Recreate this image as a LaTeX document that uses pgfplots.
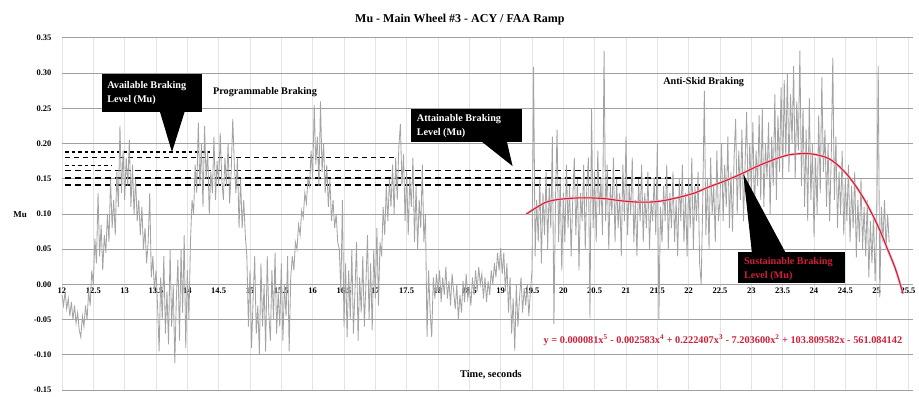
\documentclass[border=0pt]{standalone}
\usepackage{fontspec}
\setmainfont{Liberation Serif}
\usepackage{pgfplots}
\pgfplotsset{compat=1.18}
\definecolor{gridh}{HTML}{A0A0A0}
\definecolor{gridv}{HTML}{E4E4E4}
\definecolor{dataline}{HTML}{A4A4A4}
\definecolor{fitred}{HTML}{D01E38}
\begin{document}
\begin{tikzpicture}
\begin{axis}[
  scale only axis, width=851pt, height=352pt,
  xmin=12, xmax=25.58, ymin=-0.15, ymax=0.35,
  axis line style={draw=none},
  major tick length=0pt, tick style={draw=none},
  xtick={12,12.5,13,13.5,14,14.5,15,15.5,16,16.5,17,17.5,18,18.5,19,19.5,20,20.5,21,21.5,22,22.5,23,23.5,24,24.5,25,25.5},
  ytick={-0.15,-0.1,-0.05,0,0.05,0.1,0.15,0.2,0.25,0.3,0.35},
  xmajorgrids, ymajorgrids,
  x grid style={gridv, line width=0.6pt},
  y grid style={gridh, line width=1pt},
  /pgf/number format/assume math mode=true,
  xticklabel style={font=\bfseries\fontsize{8.5}{9}\selectfont, yshift=105.6pt},
  yticklabel style={font=\bfseries\fontsize{8.5}{9}\selectfont, xshift=-7pt,
    /pgf/number format/.cd, fixed, fixed zerofill, precision=2},
  clip=false,
]
% dashed braking level lines
\addplot[black, line width=1.3pt, dash pattern=on 3.5pt off 3pt] coordinates {(12.05,0.188) (14.36,0.188)};
\addplot[black, line width=1.3pt, dash pattern=on 5pt off 4pt] coordinates {(12.05,0.180) (17.35,0.180)};
\addplot[black, line width=1.3pt, dash pattern=on 3.5pt off 3pt] coordinates {(12.05,0.169) (12.8,0.169)};
\addplot[black, line width=1.3pt, dash pattern=on 6pt off 4pt] coordinates {(12.05,0.162) (20.9,0.162)};
\addplot[black, line width=1.3pt, dash pattern=on 6pt off 4pt] coordinates {(12.05,0.151) (21.75,0.151)};
\addplot[black, line width=1.3pt, dash pattern=on 6pt off 4pt] coordinates {(12.05,0.141) (22.18,0.141)};
% measured Mu
\addplot[dataline, line width=0.85pt] coordinates {
(12.000,-0.015) (12.025,-0.030) (12.050,-0.010) (12.075,-0.035)
(12.100,-0.020) (12.125,-0.045) (12.150,-0.025) (12.175,-0.050)
(12.200,-0.030) (12.225,-0.055) (12.250,-0.040) (12.275,-0.065)
(12.300,-0.075) (12.325,-0.045) (12.350,-0.060) (12.375,-0.030)
(12.400,-0.050) (12.425,-0.010) (12.450,-0.030) (12.475,0.020)
(12.500,0.000) (12.525,0.065) (12.550,0.030) (12.575,0.130)
(12.600,0.040) (12.625,0.085) (12.650,0.020) (12.675,0.070)
(12.700,0.045) (12.725,0.100) (12.750,0.060) (12.775,0.150)
(12.800,0.080) (12.825,0.120) (12.850,0.070) (12.875,0.160)
(12.900,0.110) (12.925,0.225) (12.950,0.130) (12.975,0.190)
(13.000,0.120) (13.025,0.180) (13.050,0.140) (13.075,0.205)
(13.100,0.110) (13.125,0.170) (13.150,0.100) (13.175,0.150)
(13.200,0.090) (13.225,0.120) (13.250,0.070) (13.275,0.110)
(13.300,0.050) (13.325,0.080) (13.350,0.030) (13.375,0.060)
(13.400,0.130) (13.425,0.010) (13.450,0.040) (13.475,-0.010)
(13.500,0.020) (13.525,-0.030) (13.550,-0.095) (13.575,0.010)
(13.600,-0.050) (13.625,0.040) (13.650,-0.070) (13.675,-0.010)
(13.700,-0.085) (13.725,0.050) (13.750,-0.060) (13.775,0.000)
(13.800,-0.112) (13.825,-0.020) (13.850,0.035) (13.875,-0.080)
(13.900,0.050) (13.925,-0.040) (13.950,0.070) (13.975,-0.090)
(14.000,0.020) (14.025,-0.050) (14.050,0.060) (14.075,0.120)
(14.100,0.100) (14.125,0.170) (14.150,0.130) (14.175,0.230)
(14.200,0.140) (14.225,0.200) (14.250,0.110) (14.275,0.225)
(14.300,0.150) (14.325,0.190) (14.350,0.100) (14.375,0.160)
(14.400,0.130) (14.425,0.210) (14.450,0.120) (14.475,0.175)
(14.500,0.140) (14.525,0.215) (14.550,0.150) (14.575,0.120)
(14.600,0.180) (14.625,0.140) (14.650,0.200) (14.675,0.115)
(14.700,0.160) (14.725,0.235) (14.750,0.170) (14.775,0.130)
(14.800,0.180) (14.825,0.080) (14.850,0.150) (14.875,0.080)
(14.900,0.120) (14.925,0.070) (14.950,0.040)
(14.975,-0.060) (15.000,0.020) (15.025,-0.090) (15.050,-0.020)
(15.075,0.040) (15.100,-0.070) (15.125,-0.030) (15.150,-0.100)
(15.175,0.030) (15.200,-0.060) (15.225,0.000) (15.250,-0.095)
(15.275,0.040) (15.300,-0.040) (15.325,-0.080) (15.350,0.020)
(15.375,-0.050) (15.400,0.045) (15.425,-0.070) (15.450,-0.010)
(15.475,-0.060) (15.500,0.030) (15.525,-0.080) (15.550,0.000)
(15.575,-0.045) (15.600,0.040) (15.625,-0.095) (15.650,0.010)
(15.675,0.040) (15.700,0.020) (15.725,0.060) (15.750,0.050)
(15.775,0.085) (15.800,0.070) (15.825,0.105) (15.850,0.095)
(15.875,0.130) (15.900,0.115) (15.925,0.150) (15.950,0.140)
(15.975,0.190) (16.000,0.150) (16.025,0.255) (16.050,0.170)
(16.075,0.210) (16.100,0.140) (16.125,0.260) (16.150,0.160)
(16.175,0.200) (16.200,0.130) (16.225,0.170) (16.250,0.110)
(16.275,0.150) (16.300,0.090) (16.325,0.120) (16.350,0.080)
(16.375,0.100) (16.400,0.060) (16.425,0.050) (16.450,-0.010)
(16.475,0.120) (16.500,-0.060) (16.525,0.030) (16.550,-0.075)
(16.575,0.020) (16.600,-0.050) (16.625,0.050) (16.650,-0.070)
(16.675,-0.010) (16.700,0.060) (16.725,-0.080) (16.750,0.010)
(16.775,-0.040) (16.800,0.040) (16.825,-0.060) (16.850,0.000)
(16.875,0.070) (16.900,-0.050) (16.925,0.030) (16.950,-0.065)
(16.975,0.050) (17.000,-0.020) (17.025,0.080) (17.050,-0.030)
(17.075,0.060) (17.100,0.040) (17.125,0.110) (17.150,0.070)
(17.175,0.140) (17.200,0.090) (17.225,0.150) (17.250,0.110)
(17.275,0.170) (17.300,0.100) (17.325,0.180) (17.350,0.120)
(17.375,0.195) (17.400,0.228) (17.425,0.140) (17.450,0.185)
(17.475,0.090) (17.500,0.160) (17.525,0.070) (17.550,0.150)
(17.575,0.110) (17.600,0.180) (17.625,0.060) (17.650,0.140)
(17.675,0.050) (17.700,0.120) (17.725,0.080) (17.750,0.170)
(17.775,0.060) (17.800,0.100) (17.825,-0.075) (17.850,0.020)
(17.875,-0.040) (17.900,-0.075) (17.925,0.010) (17.950,-0.020)
(17.975,0.015) (18.000,-0.010) (18.025,0.020) (18.050,-0.025)
(18.075,0.010) (18.100,-0.015) (18.125,0.025) (18.150,-0.020)
(18.175,0.005) (18.200,-0.030) (18.225,0.015) (18.250,-0.010)
(18.275,-0.035) (18.300,0.000) (18.325,-0.050) (18.350,-0.015)
(18.375,-0.040) (18.400,0.005) (18.425,-0.025) (18.450,0.015)
(18.475,-0.020) (18.500,-0.005) (18.525,-0.030) (18.550,0.010)
(18.575,-0.015) (18.600,0.020) (18.625,-0.010) (18.650,0.025)
(18.675,0.000) (18.700,0.015) (18.725,-0.020) (18.750,0.010)
(18.775,-0.025) (18.800,0.005) (18.825,-0.015) (18.850,0.020)
(18.875,0.000) (18.900,0.030) (18.925,0.010) (18.950,0.045)
(18.975,0.020) (19.000,0.052) (19.025,0.015) (19.050,0.045)
(19.075,-0.010) (19.100,0.030) (19.125,-0.040) (19.150,0.010)
(19.175,-0.070) (19.200,-0.020) (19.225,-0.094) (19.250,0.000)
(19.275,-0.060) (19.300,-0.020) (19.325,0.010) (19.350,-0.040)
(19.375,-0.005) (19.400,-0.030) (19.425,0.000) (19.450,-0.045)
(19.475,-0.010) (19.500,0.020) (19.525,0.309) (19.550,0.040)
(19.575,0.120) (19.600,0.060) (19.625,0.150) (19.650,0.030)
(19.675,0.130) (19.700,0.070) (19.725,0.160) (19.750,0.050)
(19.775,0.140) (19.800,0.080) (19.825,0.210) (19.850,-0.056)
(19.875,0.120) (19.900,0.220) (19.925,0.060) (19.950,0.150)
(19.975,0.020) (20.000,0.130) (20.025,0.060) (20.050,0.170)
(20.075,0.080) (20.100,0.140) (20.125,0.040) (20.150,0.120)
(20.175,0.180) (20.200,0.070) (20.225,0.150) (20.250,0.020)
(20.275,0.130) (20.300,0.090) (20.325,0.170) (20.350,0.050)
(20.375,0.140) (20.400,0.180) (20.425,-0.048) (20.450,0.250)
(20.475,0.080) (20.500,0.160) (20.525,0.060) (20.550,0.190)
(20.575,0.100) (20.600,0.150) (20.625,0.070) (20.650,0.332)
(20.675,0.090) (20.700,0.170) (20.725,0.050) (20.750,0.140)
(20.775,0.100) (20.800,0.180) (20.825,0.060) (20.850,0.150)
(20.875,0.080) (20.900,0.130) (20.925,0.040) (20.950,0.170)
(20.975,0.090) (21.000,0.210) (21.025,0.070) (21.050,0.140)
(21.075,0.100) (21.100,0.180) (21.125,0.060) (21.150,0.120)
(21.175,0.040) (21.200,0.150) (21.225,0.090) (21.250,0.170)
(21.275,0.060) (21.300,0.130) (21.325,0.080) (21.350,0.160)
(21.375,0.050) (21.400,0.120) (21.425,0.090) (21.450,0.150)
(21.475,0.070) (21.500,0.200) (21.525,-0.050) (21.550,0.110)
(21.575,0.060) (21.600,0.140) (21.625,0.090) (21.650,0.170)
(21.675,0.050) (21.700,0.130) (21.725,0.080) (21.750,0.160)
(21.775,0.060) (21.800,0.120) (21.825,0.040) (21.850,0.150)
(21.875,0.090) (21.900,0.170) (21.925,0.060) (21.950,0.130)
(21.975,0.040) (22.000,0.150) (22.025,0.080) (22.050,0.180)
(22.075,0.050) (22.100,0.140) (22.125,0.090) (22.150,0.160)
(22.175,0.030) (22.200,0.000) (22.225,0.120) (22.250,0.275)
(22.275,0.070) (22.300,0.150) (22.325,0.050) (22.350,0.180)
(22.375,0.100) (22.400,0.140) (22.425,0.060) (22.450,0.190)
(22.475,0.090) (22.500,0.120) (22.525,0.200) (22.550,0.090)
(22.575,0.170) (22.600,0.110) (22.625,0.210) (22.650,0.080)
(22.675,0.160) (22.700,0.075) (22.725,0.180) (22.750,0.235)
(22.775,0.100) (22.800,0.190) (22.825,0.120) (22.850,0.220)
(22.875,0.090) (22.900,0.170) (22.925,0.245) (22.950,0.110)
(22.975,0.200) (23.000,0.130) (23.025,0.230) (23.050,0.100)
(23.075,0.190) (23.100,0.140) (23.125,0.240) (23.150,0.120)
(23.175,0.250) (23.200,0.110) (23.225,0.200) (23.250,0.150)
(23.275,0.230) (23.300,0.100) (23.325,0.210) (23.350,0.140)
(23.375,0.270) (23.400,0.120) (23.425,0.240) (23.450,0.160)
(23.475,0.280) (23.500,0.150) (23.525,0.290) (23.550,0.180)
(23.575,0.300) (23.600,0.160) (23.625,0.270) (23.650,0.200)
(23.675,0.310) (23.700,0.150) (23.725,0.260) (23.750,0.190)
(23.775,0.332) (23.800,0.140) (23.825,0.250) (23.850,0.110)
(23.875,0.220) (23.900,0.090) (23.925,0.265) (23.950,0.120)
(23.975,0.200) (24.000,0.067) (24.025,0.180) (24.050,0.100)
(24.075,0.240) (24.100,0.130) (24.125,0.294) (24.150,0.160)
(24.175,0.220) (24.200,0.110) (24.225,0.200) (24.250,0.090)
(24.275,0.180) (24.300,0.322) (24.325,0.120) (24.350,0.210)
(24.375,0.080) (24.400,0.160) (24.425,0.100) (24.450,0.190)
(24.475,0.070) (24.500,0.150) (24.525,0.090) (24.550,0.170)
(24.575,0.060) (24.600,0.140) (24.625,0.080) (24.650,0.160)
(24.675,0.038) (24.700,0.120) (24.725,0.060) (24.750,0.150)
(24.775,0.050) (24.800,0.110) (24.825,0.040) (24.850,0.120)
(24.875,0.010) (24.900,0.090) (24.925,0.030) (24.950,0.100)
(24.975,0.005) (25.000,0.080) (25.025,0.310) (25.050,-0.018)
(25.075,0.110) (25.100,0.060) (25.125,0.120) (25.150,0.050)
(25.175,0.100) (25.200,0.060)
};
% polynomial trend
\addplot[fitred!30, line width=2.4pt, smooth] coordinates {
(19.41,0.100) (19.55,0.108) (19.73,0.117) (19.95,0.121) (20.30,0.123)
(20.64,0.122) (20.90,0.119) (21.17,0.117) (21.40,0.117) (21.60,0.119)
(21.86,0.124) (22.10,0.130) (22.31,0.138) (22.58,0.147) (22.84,0.157)
(23.10,0.168) (23.38,0.178) (23.60,0.184) (23.86,0.186) (24.05,0.184)
(24.23,0.179) (24.36,0.171) (24.52,0.157) (24.68,0.138) (24.82,0.118)
(24.95,0.096) (25.06,0.075) (25.16,0.053) (25.30,0.022) (25.42,-0.013)};
\addplot[fitred, line width=1.1pt, smooth] coordinates {
(19.41,0.100) (19.55,0.108) (19.73,0.117) (19.95,0.121) (20.30,0.123)
(20.64,0.122) (20.90,0.119) (21.17,0.117) (21.40,0.117) (21.60,0.119)
(21.86,0.124) (22.10,0.130) (22.31,0.138) (22.58,0.147) (22.84,0.157)
(23.10,0.168) (23.38,0.178) (23.60,0.184) (23.86,0.186) (24.05,0.184)
(24.23,0.179) (24.36,0.171) (24.52,0.157) (24.68,0.138) (24.82,0.118)
(24.95,0.096) (25.06,0.075) (25.16,0.053) (25.30,0.022) (25.42,-0.013)};
% title and labels
\node[font=\bfseries\fontsize{12}{14}\selectfont] at (axis cs:18.35,0.3756) {Mu - Main Wheel \#3 - ACY / FAA Ramp};
\node[font=\bfseries\fontsize{9}{10}\selectfont] at (axis cs:11.33,0.0994) {Mu};
\node[font=\bfseries\fontsize{10.3}{12}\selectfont] at (axis cs:18.845,-0.1278) {Time, seconds};
\node[font=\bfseries\fontsize{10.2}{12}\selectfont] at (axis cs:15.24,0.2727) {Programmable Braking};
\node[font=\bfseries\fontsize{10.2}{12}\selectfont] at (axis cs:22.24,0.2869) {Anti-Skid Braking};
% Available braking callout
\fill[black] (axis cs:12.64,0.245) rectangle (axis cs:14.23,0.299);
\fill[black] (axis cs:13.56,0.246) -- (axis cs:13.96,0.246) -- (axis cs:13.755,0.188) -- cycle;
\node[anchor=west, align=left, text=white, inner sep=0pt, font=\bfseries\fontsize{10.2}{14}\selectfont] at (axis cs:12.72,0.2715) {Available Braking\\Level (Mu)};
% Attainable braking callout
\fill[black] (axis cs:17.57,0.2017) rectangle (axis cs:19.34,0.2486);
\fill[black] (axis cs:18.70,0.2027) -- (axis cs:19.10,0.2027) -- (axis cs:19.19,0.168) -- cycle;
\node[anchor=west, align=left, text=white, inner sep=0pt, font=\bfseries\fontsize{10.2}{14}\selectfont] at (axis cs:17.66,0.2250) {Attainable Braking\\Level (Mu)};
% Sustainable braking callout
\fill[black] (axis cs:22.787,0.0014) rectangle (axis cs:24.494,0.0455);
\fill[black] (axis cs:23.01,0.0445) -- (axis cs:23.55,0.0445) -- (axis cs:22.871,0.157) -- cycle;
\node[anchor=west, align=left, text=fitred, inner sep=0pt, font=\bfseries\fontsize{10.2}{14}\selectfont] at (axis cs:22.88,0.0225) {Sustainable Braking\\Level (Mu)};
% equation
\node[text=fitred, font=\bfseries\fontsize{10.3}{12}\selectfont] at (axis cs:22.547,-0.0795) {y = 0.000081x\textsuperscript{5} - 0.002583x\textsuperscript{4} + 0.222407x\textsuperscript{3} - 7.203600x\textsuperscript{2} + 103.809582x - 561.084142};
\path[use as bounding box] (axis cs:11.0107,-0.15426) rectangle (axis cs:25.6757,0.40398);
\end{axis}
\end{tikzpicture}
\end{document}
